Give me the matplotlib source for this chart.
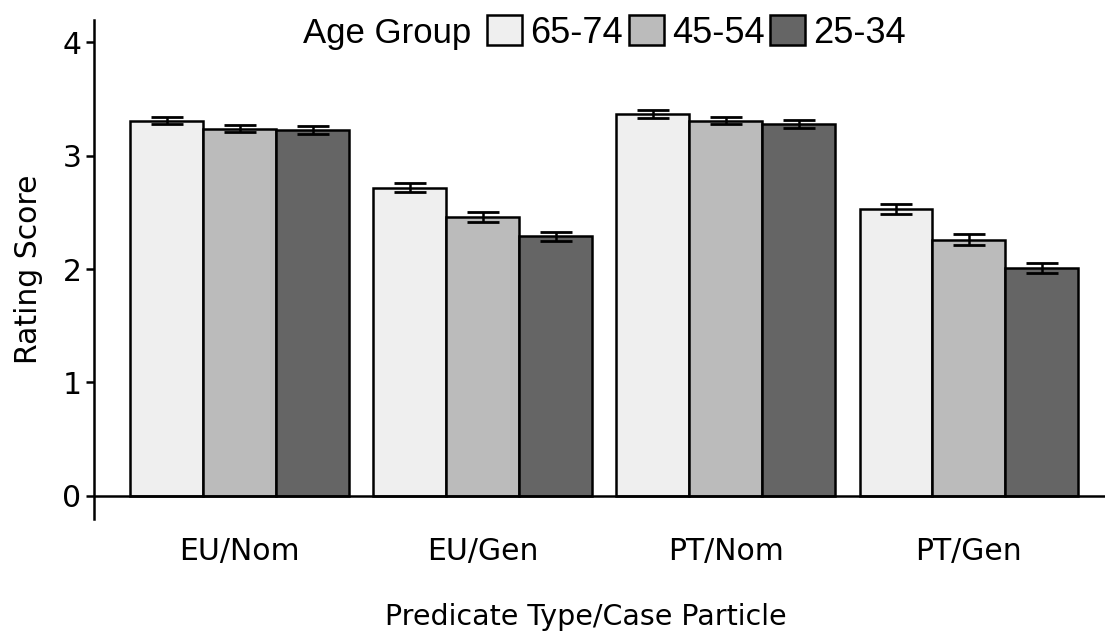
import numpy as np
import matplotlib
matplotlib.use('Agg')
import matplotlib.pyplot as plt
from matplotlib.patches import Patch

CATEGORIES = ['EU/Nom', 'EU/Gen', 'PT/Nom', 'PT/Gen']
GROUPS = ['65-74', '45-54', '25-34']
MEANS = {
    '65-74': [3.31, 2.72, 3.37, 2.53],
    '45-54': [3.24, 2.46, 3.31, 2.26],
    '25-34': [3.23, 2.29, 3.28, 2.01],
}
ERRORS = {
    '65-74': [0.034, 0.041, 0.034, 0.043],
    '45-54': [0.034, 0.041, 0.032, 0.046],
    '25-34': [0.034, 0.041, 0.034, 0.046],
}
COLORS = ['#EFEFEF', '#BBBBBB', '#656565']

AXIS_FONT = ['DejaVu Sans']
LEGEND_FONT = ['Liberation Sans', 'DejaVu Sans']

fig = plt.figure(figsize=(11.05, 6.37), dpi=100)
ax = fig.add_axes([0.085, 0.186, 0.915, 0.783])

x = np.arange(1, len(CATEGORIES) + 1)
width = 0.3
for i, g in enumerate(GROUPS):
    pos = x + (i - 1) * width
    ax.bar(pos, MEANS[g], width=width, color=COLORS[i], edgecolor='black',
           linewidth=1.8, zorder=2)
    ax.errorbar(pos, MEANS[g], yerr=ERRORS[g], fmt='none', ecolor='black',
                elinewidth=1.8, capsize=11.5, capthick=2.0, zorder=3)

ax.axhline(0, color='black', linewidth=1.8, zorder=4)
ax.set_xlim(0.4, 4.56)
ax.set_ylim(-0.2, 4.2)
ax.set_yticks([0, 1, 2, 3, 4])
ax.set_xticks(x)
ax.set_xticklabels(CATEGORIES, fontsize=21.5, family=AXIS_FONT)
ax.set_yticklabels(['0', '1', '2', '3', '4'], fontsize=21.5, family=AXIS_FONT)
ax.tick_params(axis='x', length=0, pad=13)
ax.tick_params(axis='y', length=6, width=1.8, pad=3)
for s in ['top', 'right', 'bottom']:
    ax.spines[s].set_visible(False)
ax.spines['left'].set_linewidth(1.8)

fig.text(0.026, 0.578, 'Rating Score', fontsize=21.5, family=AXIS_FONT,
         rotation=90, ha='center', va='center')
fig.text(0.53, 0.019, 'Predicate Type/Case Particle', fontsize=20.5,
         family=AXIS_FONT, ha='center', va='baseline')

fig.text(0.274, 0.948, 'Age Group', fontsize=25, family=LEGEND_FONT,
         ha='left', va='center')
handles = [Patch(facecolor=c, edgecolor='black', linewidth=1.8) for c in COLORS]
fig.legend(handles, GROUPS, ncol=3, loc='center left',
           bbox_to_anchor=(0.4407, 0.948), frameon=False,
           prop={'family': LEGEND_FONT, 'size': 26},
           handlelength=0.97, handleheight=0.89, handletextpad=0.22,
           columnspacing=0.17, borderpad=0, borderaxespad=0)

fig.savefig('out.png', dpi=100)
